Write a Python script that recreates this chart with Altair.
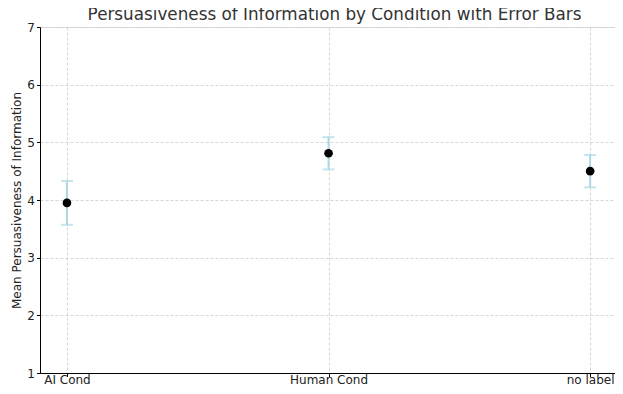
import altair as alt
import pandas as pd

conditions = ["AI Cond", "Human Cond", "no label"]
positions = [0, 1, 2]
means = [3.95, 4.81, 4.50]
errors = [0.38, 0.28, 0.28]

df = pd.DataFrame({
    "pos": positions,
    "cond": conditions,
    "mean": means,
    "lo": [m - e for m, e in zip(means, errors)],
    "hi": [m + e for m, e in zip(means, errors)],
})

font = "DejaVu Sans"
label_expr = "datum.value == 0 ? 'AI Cond' : datum.value == 1 ? 'Human Cond' : 'no label'"

x = alt.X("pos:Q",
          scale=alt.Scale(domain=[-0.103, 2.095], nice=False, zero=False),
          axis=alt.Axis(values=positions, labelExpr=label_expr, title=None,
                        grid=True, gridDash=[3, 2], gridColor="#cccccc", gridWidth=0.8,
                        domainColor="#000000", domainWidth=1, tickColor="#000000",
                        tickSize=3.5, labelFontSize=12, labelColor="#222222",
                        labelFont=font, labelPadding=7, labelBaseline="alphabetic",
                        labelFlush=False))
y_scale = alt.Scale(domain=[1, 7], nice=False, zero=False)
y_axis = alt.Axis(values=[1, 2, 3, 4, 5, 6, 7], format="d",
                  title="Mean Persuasiveness of Information",
                  grid=True, gridDash=[3, 2], gridColor="#cccccc", gridWidth=0.8,
                  domainColor="#000000", domainWidth=1, tickColor="#000000",
                  tickSize=3.5, labelFontSize=12, labelColor="#222222", labelFont=font,
                  labelPadding=2, titleFont=font, titleFontSize=12, titleColor="#222222",
                  titleFontWeight="normal", titlePadding=3)

base = alt.Chart(df)

bars = base.mark_rule(color="#add8e6", strokeWidth=2).encode(
    x=x, y=alt.Y("lo:Q", scale=y_scale, axis=y_axis), y2="hi:Q")
cap_lo = base.mark_tick(color="#add8e6", thickness=2, size=12, orient="horizontal").encode(
    x="pos:Q", y=alt.Y("lo:Q"))
cap_hi = base.mark_tick(color="#add8e6", thickness=2, size=12, orient="horizontal").encode(
    x="pos:Q", y=alt.Y("hi:Q"))
pts = base.mark_circle(color="#000000", size=75, opacity=1).encode(
    x="pos:Q", y=alt.Y("mean:Q"))

chart = alt.layer(bars, cap_lo, cap_hi, pts).properties(
    width=575, height=346,
    title=alt.TitleParams("Persuasiveness of Information by Condition with Error Bars",
                          font=font, fontSize=16.8, fontWeight="normal", color="#333333",
                          anchor="middle", offset=0, dx=7, dy=3),
    autosize=alt.AutoSizeParams(type="none"),
    padding={"left": 32, "top": 19, "right": 0, "bottom": 13},
).configure_view(stroke=None).configure(background="white")

chart.save("out.html", embed_options={"renderer": "svg", "actions": False})
